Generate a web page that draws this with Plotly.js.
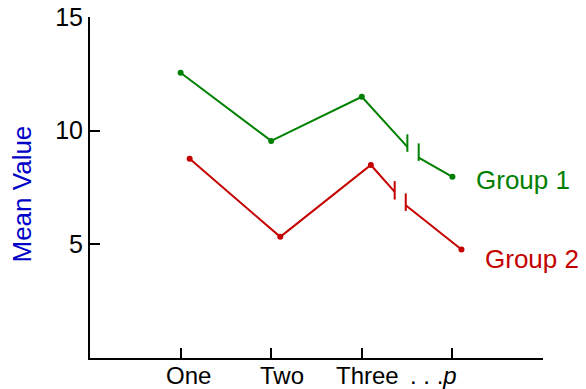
<!DOCTYPE html>
<html>
<head>
<meta charset="utf-8">
<script src="https://cdn.plot.ly/plotly-3.0.1.min.js"></script>
<style>html,body{margin:0;padding:0;background:#fff;}#chart{width:586px;height:389px;}</style>
</head>
<body>
<div id="chart"></div>
<script>
// ---- data ----
const categories = ['One', 'Two', 'Three', '. . .<i>p</i>'];
const groupNames = ['Group 1', 'Group 2'];
const xPos1 = [1, 2, 3, 4];
const xPos2 = [1.1, 2.1, 3.1, 4.1];
const group1 = [12.55, 9.55, 11.49, 7.97];
const group2 = [8.76, 5.33, 8.49, 4.77];
// break in last segment: [x, y on line, mark low, mark high]
const break1a = [3.503, 9.29, 9.07, 9.84];
const break1b = [3.628, 8.81, 8.67, 9.44];
const break2a = [3.363, 7.31, 6.97, 7.78];
const break2b = [3.485, 6.72, 6.47, 7.24];
const yTicks = [5, 10, 15];

const green = 'rgb(0,128,0)';
const red = 'rgb(196,0,0)';
const blue = 'rgb(0,0,200)';
const FONT = 'Liberation Sans, Arial, sans-serif';

function seriesTraces(xs, ys, ba, bb, color) {
  return [
    {x: xs.slice(0, 3).concat([ba[0]]), y: ys.slice(0, 3).concat([ba[1]]), mode: 'lines',
     line: {color: color, width: 2}, hoverinfo: 'skip'},
    {x: [bb[0], xs[3]], y: [bb[1], ys[3]], mode: 'lines', line: {color: color, width: 2}, hoverinfo: 'skip'},
    {x: [ba[0], ba[0]], y: [ba[2], ba[3]], mode: 'lines', line: {color: color, width: 2}, hoverinfo: 'skip'},
    {x: [bb[0], bb[0]], y: [bb[2], bb[3]], mode: 'lines', line: {color: color, width: 2}, hoverinfo: 'skip'},
    {x: xs, y: ys, mode: 'markers', marker: {color: color, size: 6}, hoverinfo: 'skip'}
  ];
}

const data = seriesTraces(xPos1, group1, break1a, break1b, green)
  .concat(seriesTraces(xPos2, group2, break2a, break2b, red));

const labelShift = [8, 11, 6, 0];
const annotations = categories.map((c, i) => ({
  x: xPos1[i], xref: 'x', y: 0, yref: 'paper',
  text: c, showarrow: false,
  xanchor: i === 3 ? 'right' : 'center', yanchor: 'middle',
  xshift: i === 3 ? 7 : labelShift[i], yshift: -17,
  font: {family: FONT, size: 24, color: '#000'}
}));
annotations.push({
  x: xPos1[3], y: group1[3], xref: 'x', yref: 'y', text: groupNames[0], showarrow: false,
  xanchor: 'left', yanchor: 'middle', xshift: 22, yshift: -3,
  font: {family: FONT, size: 26, color: green}
});
annotations.push({
  x: xPos2[3], y: group2[3], xref: 'x', yref: 'y', text: groupNames[1], showarrow: false,
  xanchor: 'left', yanchor: 'middle', xshift: 22, yshift: -9,
  font: {family: FONT, size: 26, color: red}
});
annotations.push({
  x: 0, xref: 'paper', y: 0.5, yref: 'paper', text: 'Mean Value', showarrow: false,
  textangle: -90, xanchor: 'center', yanchor: 'middle', xshift: -69, yshift: -7,
  font: {family: FONT, size: 26, color: blue}
});

const layout = {
  width: 586, height: 389,
  margin: {l: 90, r: 43, t: 17, b: 31, pad: 0},
  paper_bgcolor: '#fff', plot_bgcolor: '#fff',
  showlegend: false,
  xaxis: {range: [0, 5], showgrid: false, zeroline: false, showline: true, linecolor: '#000', linewidth: 2,
          tickvals: xPos1, ticks: 'inside', ticklen: 10, tickwidth: 2, tickcolor: '#000', showticklabels: false},
  yaxis: {range: [0, 15], showgrid: false, zeroline: false, showline: true, linecolor: '#000', linewidth: 2,
          tickvals: yTicks, ticks: 'inside', ticklen: 10, tickwidth: 2, tickcolor: '#000',
          tickfont: {family: FONT, size: 25, color: '#000'}},
  annotations: annotations
};

Plotly.newPlot('chart', data, layout, {displayModeBar: false, staticPlot: true});
</script>
</body>
</html>
